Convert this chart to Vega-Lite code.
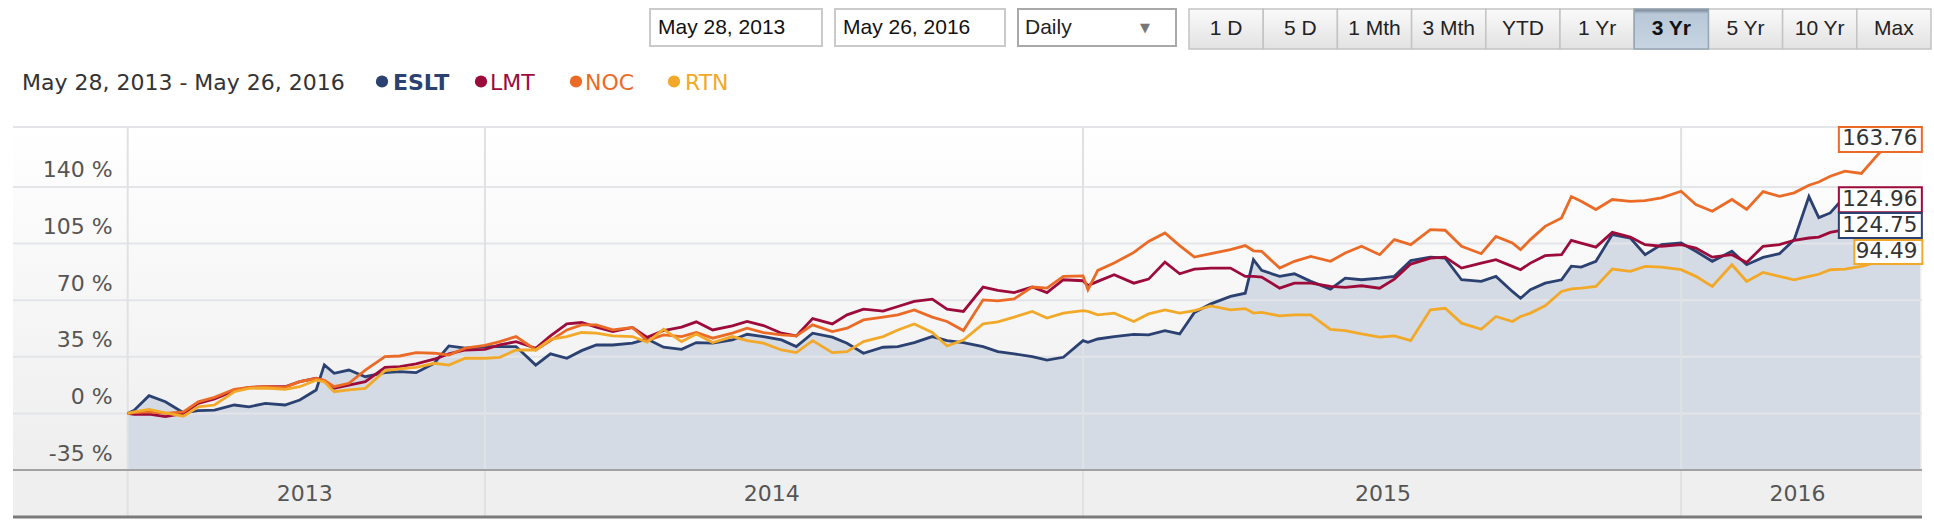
{
  "$schema": "https://vega.github.io/schema/vega-lite/v6.json",
  "background": "white",
  "padding": {"left": 11, "top": 8, "right": 0, "bottom": 0},
  "spacing": 13,
  "config": {"view": {"stroke": null, "fill": "white"}},
  "datasets": {
    "prices": [
      {"d":"2013-05-28","ESLT":0,"LMT":0,"NOC":0,"RTN":0},
      {"d":"2013-06-01","ESLT":2,"LMT":-0.5,"NOC":0.5,"RTN":1},
      {"d":"2013-06-10","ESLT":11,"LMT":-0.4,"NOC":1,"RTN":2.5},
      {"d":"2013-06-20","ESLT":7.2,"LMT":-2,"NOC":0,"RTN":0.4},
      {"d":"2013-07-01","ESLT":0.4,"LMT":0,"NOC":1,"RTN":-1.7},
      {"d":"2013-07-10","ESLT":1.7,"LMT":6.2,"NOC":7.2,"RTN":4.1},
      {"d":"2013-07-20","ESLT":2,"LMT":8.9,"NOC":9.9,"RTN":5.2},
      {"d":"2013-08-01","ESLT":5.2,"LMT":14,"NOC":14.9,"RTN":13.4},
      {"d":"2013-08-10","ESLT":4.1,"LMT":16.1,"NOC":16.1,"RTN":15.5},
      {"d":"2013-08-20","ESLT":6.2,"LMT":16.5,"NOC":16.5,"RTN":15.7},
      {"d":"2013-09-01","ESLT":5.2,"LMT":16.5,"NOC":16.1,"RTN":14.9},
      {"d":"2013-09-10","ESLT":8.3,"LMT":19.6,"NOC":19.6,"RTN":16.5},
      {"d":"2013-09-20","ESLT":14.5,"LMT":21.7,"NOC":21.7,"RTN":20.6},
      {"d":"2013-09-25","ESLT":30,"LMT":20,"NOC":20.5,"RTN":19.5},
      {"d":"2013-10-01","ESLT":24.8,"LMT":15.5,"NOC":16.5,"RTN":13.4},
      {"d":"2013-10-10","ESLT":26.8,"LMT":17.5,"NOC":18.6,"RTN":14.5},
      {"d":"2013-10-20","ESLT":22.7,"LMT":19.6,"NOC":26.8,"RTN":15.5},
      {"d":"2013-11-01","ESLT":25.2,"LMT":28.5,"NOC":35.1,"RTN":26.4},
      {"d":"2013-11-10","ESLT":25.8,"LMT":28.9,"NOC":35.5,"RTN":27.5},
      {"d":"2013-11-20","ESLT":25.2,"LMT":30.6,"NOC":37.6,"RTN":28.5},
      {"d":"2013-12-01","ESLT":31,"LMT":33.5,"NOC":37.2,"RTN":31},
      {"d":"2013-12-10","ESLT":41.7,"LMT":36.8,"NOC":36.1,"RTN":29.9},
      {"d":"2013-12-20","ESLT":40.3,"LMT":39.2,"NOC":40.3,"RTN":34.1},
      {"d":"2014-01-01","ESLT":41.3,"LMT":39.6,"NOC":42.1,"RTN":34.1},
      {"d":"2014-01-10","ESLT":41.3,"LMT":42.3,"NOC":44.4,"RTN":34.7},
      {"d":"2014-01-20","ESLT":41.3,"LMT":44.4,"NOC":47.5,"RTN":39.2},
      {"d":"2014-02-01","ESLT":29.9,"LMT":40.3,"NOC":39.2,"RTN":39.2},
      {"d":"2014-02-10","ESLT":36.8,"LMT":47.9,"NOC":45,"RTN":45.8},
      {"d":"2014-02-20","ESLT":34.1,"LMT":55.3,"NOC":51.6,"RTN":47.5},
      {"d":"2014-03-01","ESLT":38.8,"LMT":56.2,"NOC":54.7,"RTN":50},
      {"d":"2014-03-10","ESLT":42.3,"LMT":53.3,"NOC":54.7,"RTN":49.6},
      {"d":"2014-03-20","ESLT":42.3,"LMT":50.6,"NOC":51.6,"RTN":47.9},
      {"d":"2014-04-01","ESLT":43.4,"LMT":53.1,"NOC":53.1,"RTN":47.5},
      {"d":"2014-04-10","ESLT":46,"LMT":47,"NOC":45,"RTN":44},
      {"d":"2014-04-20","ESLT":40.9,"LMT":51.2,"NOC":48.5,"RTN":52},
      {"d":"2014-05-01","ESLT":39.6,"LMT":53.3,"NOC":47.5,"RTN":44.4},
      {"d":"2014-05-10","ESLT":43.8,"LMT":56.6,"NOC":50,"RTN":49.1},
      {"d":"2014-05-20","ESLT":43.4,"LMT":51.6,"NOC":46.5,"RTN":43.8},
      {"d":"2014-06-01","ESLT":45.4,"LMT":54.1,"NOC":49.6,"RTN":47.5},
      {"d":"2014-06-10","ESLT":48.9,"LMT":56.8,"NOC":52.7,"RTN":45},
      {"d":"2014-06-20","ESLT":47.5,"LMT":54.3,"NOC":50,"RTN":43.4},
      {"d":"2014-07-01","ESLT":45.4,"LMT":49.6,"NOC":48.5,"RTN":39.2},
      {"d":"2014-07-10","ESLT":41.3,"LMT":47.9,"NOC":47.9,"RTN":37.6},
      {"d":"2014-07-20","ESLT":49.6,"LMT":58.6,"NOC":54.7,"RTN":45},
      {"d":"2014-08-01","ESLT":47.1,"LMT":55.3,"NOC":50.6,"RTN":37.6},
      {"d":"2014-08-10","ESLT":43.4,"LMT":60.9,"NOC":52.7,"RTN":38.2},
      {"d":"2014-08-20","ESLT":37.2,"LMT":64.4,"NOC":57.8,"RTN":44.4},
      {"d":"2014-09-01","ESLT":40.9,"LMT":63.2,"NOC":59.5,"RTN":47.5},
      {"d":"2014-09-10","ESLT":41.3,"LMT":66.1,"NOC":60.9,"RTN":51.6},
      {"d":"2014-09-20","ESLT":43.8,"LMT":69.2,"NOC":64,"RTN":55.3},
      {"d":"2014-10-01","ESLT":47.5,"LMT":70.6,"NOC":59.5,"RTN":50},
      {"d":"2014-10-10","ESLT":45,"LMT":64.4,"NOC":56.8,"RTN":41.7},
      {"d":"2014-10-20","ESLT":43.8,"LMT":63,"NOC":51.2,"RTN":45.4},
      {"d":"2014-11-01","ESLT":41.3,"LMT":78.1,"NOC":70.2,"RTN":55.3},
      {"d":"2014-11-10","ESLT":38.2,"LMT":76,"NOC":69.6,"RTN":56.6},
      {"d":"2014-11-20","ESLT":36.8,"LMT":74.7,"NOC":70.8,"RTN":59.5},
      {"d":"2014-12-01","ESLT":35.1,"LMT":78.1,"NOC":78.1,"RTN":63},
      {"d":"2014-12-10","ESLT":33,"LMT":74.7,"NOC":77.4,"RTN":58.9},
      {"d":"2014-12-20","ESLT":34.7,"LMT":82.6,"NOC":84.7,"RTN":62},
      {"d":"2015-01-01","ESLT":45,"LMT":82,"NOC":85,"RTN":63.5},
      {"d":"2015-01-04","ESLT":44,"LMT":79,"NOC":76.5,"RTN":63},
      {"d":"2015-01-10","ESLT":46,"LMT":81.6,"NOC":88.4,"RTN":60.9},
      {"d":"2015-01-20","ESLT":47.5,"LMT":85.7,"NOC":92.9,"RTN":62},
      {"d":"2015-02-01","ESLT":48.9,"LMT":80.5,"NOC":99.5,"RTN":56.8},
      {"d":"2015-02-10","ESLT":48.5,"LMT":83,"NOC":106.3,"RTN":61.5},
      {"d":"2015-02-20","ESLT":51.2,"LMT":93.5,"NOC":111.5,"RTN":64},
      {"d":"2015-03-01","ESLT":49.1,"LMT":86.3,"NOC":103.7,"RTN":62},
      {"d":"2015-03-10","ESLT":62.4,"LMT":89.2,"NOC":96.6,"RTN":63.6},
      {"d":"2015-03-20","ESLT":67.7,"LMT":89.8,"NOC":98.7,"RTN":66.5},
      {"d":"2015-04-01","ESLT":72.3,"LMT":89.8,"NOC":101.2,"RTN":64},
      {"d":"2015-04-10","ESLT":74.3,"LMT":84.7,"NOC":103.7,"RTN":64.8},
      {"d":"2015-04-15","ESLT":95,"LMT":84.7,"NOC":100.5,"RTN":62},
      {"d":"2015-04-20","ESLT":88.4,"LMT":84.3,"NOC":100.2,"RTN":62.4},
      {"d":"2015-05-01","ESLT":84.7,"LMT":77.4,"NOC":89.8,"RTN":60.3},
      {"d":"2015-05-10","ESLT":86.3,"LMT":80.5,"NOC":94,"RTN":60.9},
      {"d":"2015-05-20","ESLT":81.6,"LMT":80.5,"NOC":97,"RTN":60.9},
      {"d":"2015-06-01","ESLT":76.8,"LMT":78.5,"NOC":94,"RTN":52},
      {"d":"2015-06-10","ESLT":83.6,"LMT":77.9,"NOC":99.1,"RTN":51.2},
      {"d":"2015-06-20","ESLT":82.6,"LMT":78.9,"NOC":103.3,"RTN":49.1},
      {"d":"2015-07-01","ESLT":83.6,"LMT":77.4,"NOC":98.1,"RTN":47.1},
      {"d":"2015-07-10","ESLT":84.7,"LMT":83,"NOC":107.4,"RTN":47.9},
      {"d":"2015-07-20","ESLT":94.4,"LMT":92.3,"NOC":104.3,"RTN":45},
      {"d":"2015-08-01","ESLT":96.6,"LMT":96,"NOC":113.6,"RTN":64},
      {"d":"2015-08-10","ESLT":96,"LMT":96.6,"NOC":113.2,"RTN":65},
      {"d":"2015-08-20","ESLT":82.6,"LMT":89.8,"NOC":103.3,"RTN":55.8},
      {"d":"2015-09-01","ESLT":81.6,"LMT":92.9,"NOC":98.7,"RTN":52},
      {"d":"2015-09-10","ESLT":84.7,"LMT":95,"NOC":109.4,"RTN":59.9},
      {"d":"2015-09-20","ESLT":75.4,"LMT":90.9,"NOC":105.3,"RTN":56.8},
      {"d":"2015-09-25","ESLT":71.2,"LMT":88.8,"NOC":101.2,"RTN":59.9},
      {"d":"2015-10-01","ESLT":76.4,"LMT":92.9,"NOC":107.4,"RTN":62},
      {"d":"2015-10-10","ESLT":80.5,"LMT":97.5,"NOC":115.6,"RTN":66.5},
      {"d":"2015-10-20","ESLT":82.6,"LMT":98.1,"NOC":120.8,"RTN":75.4},
      {"d":"2015-10-26","ESLT":91,"LMT":107,"NOC":134,"RTN":77},
      {"d":"2015-11-01","ESLT":90.4,"LMT":105.3,"NOC":131.1,"RTN":77.4},
      {"d":"2015-11-10","ESLT":94,"LMT":102.8,"NOC":126,"RTN":78.5},
      {"d":"2015-11-20","ESLT":110.5,"LMT":111.9,"NOC":132.2,"RTN":89.2},
      {"d":"2015-12-01","ESLT":108.4,"LMT":109,"NOC":131.1,"RTN":87.8},
      {"d":"2015-12-10","ESLT":98.1,"LMT":104.3,"NOC":131.5,"RTN":90.9},
      {"d":"2015-12-20","ESLT":104.3,"LMT":103.3,"NOC":133.2,"RTN":90.4},
      {"d":"2016-01-01","ESLT":105.3,"LMT":104.3,"NOC":137.3,"RTN":88.8},
      {"d":"2016-01-10","ESLT":100.2,"LMT":102.2,"NOC":129.1,"RTN":84.7},
      {"d":"2016-01-20","ESLT":94,"LMT":96.6,"NOC":124.9,"RTN":78.5},
      {"d":"2016-02-01","ESLT":100.2,"LMT":98.1,"NOC":132.2,"RTN":91.9},
      {"d":"2016-02-10","ESLT":91.9,"LMT":93.3,"NOC":126,"RTN":81.6},
      {"d":"2016-02-20","ESLT":96.4,"LMT":103.3,"NOC":137.1,"RTN":87.1},
      {"d":"2016-03-01","ESLT":98.7,"LMT":104.3,"NOC":134.2,"RTN":84.7},
      {"d":"2016-03-10","ESLT":107.4,"LMT":107,"NOC":136.3,"RTN":82.6},
      {"d":"2016-03-19","ESLT":134,"LMT":108.4,"NOC":141,"RTN":84.7},
      {"d":"2016-03-25","ESLT":121,"LMT":109,"NOC":143,"RTN":86},
      {"d":"2016-04-01","ESLT":123.9,"LMT":111.9,"NOC":146.6,"RTN":88.8},
      {"d":"2016-04-10","ESLT":134.2,"LMT":113.6,"NOC":149.7,"RTN":89.2},
      {"d":"2016-04-20","ESLT":132.2,"LMT":114.6,"NOC":148.3,"RTN":90.9},
      {"d":"2016-05-01","ESLT":129,"LMT":115.6,"NOC":161,"RTN":94},
      {"d":"2016-05-10","ESLT":127,"LMT":116.7,"NOC":166.2,"RTN":94},
      {"d":"2016-05-20","ESLT":125,"LMT":117.7,"NOC":162.1,"RTN":94.4},
      {"d":"2016-05-26","ESLT":124.75,"LMT":118,"NOC":163.76,"RTN":94.49}
    ],
    "ends": [
      {"s":"NOC","v":163.76},
      {"s":"LMT","v":124.96},
      {"s":"ESLT","v":124.75},
      {"s":"RTN","v":94.49}
    ],
    "buttons": [
      {"b":"1 D"},{"b":"5 D"},{"b":"1 Mth"},{"b":"3 Mth"},{"b":"YTD"},
      {"b":"1 Yr"},{"b":"3 Yr"},{"b":"5 Yr"},{"b":"10 Yr"},{"b":"Max"}
    ],
    "ticks": [
      {"g":-35,"lbl":"-35 %"},{"g":0,"lbl":"0 %"},{"g":35,"lbl":"35 %"},
      {"g":70,"lbl":"70 %"},{"g":105,"lbl":"105 %"},{"g":140,"lbl":"140 %"}
    ]
  },
  "vconcat": [
    {
      "spacing": 11,
      "hconcat": [
        {
          "width": 625, "height": 37,
          "data": {"values": [{}]},
          "mark": {"type": "text"},
          "encoding": {"text": {"value": ""}}
        },
        {
          "width": 172, "height": 37,
          "view": {"stroke": "#cacaca", "strokeWidth": 2, "fill": "white"},
          "data": {"values": [{"t": "May 28, 2013"}]},
          "mark": {"type": "text", "align": "left", "baseline": "middle", "dx": 8, "font": "Liberation Sans", "fontSize": 21, "color": "#111"},
          "encoding": {
            "x": {"datum": 0, "type": "quantitative", "scale": {"domain": [0, 1]}, "axis": null},
            "text": {"field": "t"}
          }
        },
        {
          "width": 170, "height": 37,
          "view": {"stroke": "#cacaca", "strokeWidth": 2, "fill": "white"},
          "data": {"values": [{"t": "May 26, 2016"}]},
          "mark": {"type": "text", "align": "left", "baseline": "middle", "dx": 8, "font": "Liberation Sans", "fontSize": 21, "color": "#111"},
          "encoding": {
            "x": {"datum": 0, "type": "quantitative", "scale": {"domain": [0, 1]}, "axis": null},
            "text": {"field": "t"}
          }
        },
        {
          "width": 158, "height": 37,
          "view": {"stroke": "#a9a9a9", "strokeWidth": 2, "fill": "white"},
          "data": {"values": [{"t": "Daily", "arrow": "\u25bc"}]},
          "layer": [
            {
              "mark": {"type": "text", "align": "left", "baseline": "middle", "dx": 7, "font": "Liberation Sans", "fontSize": 21, "color": "#222"},
              "encoding": {
                "x": {"datum": 0, "type": "quantitative", "scale": {"domain": [0, 1]}, "axis": null},
                "text": {"field": "t"}
              }
            },
            {
              "mark": {"type": "text", "align": "center", "baseline": "middle", "dx": -31, "font": "DejaVu Sans", "fontSize": 13, "color": "#777"},
              "encoding": {
                "x": {"datum": 1, "type": "quantitative", "axis": null},
                "text": {"field": "arrow"}
              }
            }
          ]
        },
        {
          "width": 742, "height": 40,
          "data": {"name": "buttons"},
          "encoding": {
            "x": {"field": "b", "type": "nominal", "scale": {"domain": ["1 D","5 D","1 Mth","3 Mth","YTD","1 Yr","3 Yr","5 Yr","10 Yr","Max"], "paddingInner": 0, "paddingOuter": 0}, "axis": null}
          },
          "layer": [
            {
              "mark": {"type": "rect", "stroke": "#c4c4c4", "strokeWidth": 1.5,
                "fill": {"gradient": "linear", "x1": 0, "y1": 0, "x2": 0, "y2": 1, "stops": [{"offset": 0, "color": "#fafafa"}, {"offset": 1, "color": "#e2e2e2"}]}}
            },
            {
              "transform": [{"filter": "datum.b == '3 Yr'"}],
              "mark": {"type": "rect", "stroke": "#98a5b3", "strokeWidth": 1.5,
                "fill": {"gradient": "linear", "x1": 0, "y1": 0, "x2": 0, "y2": 1, "stops": [{"offset": 0, "color": "#6f7f90"}, {"offset": 0.12, "color": "#b9c8d7"}, {"offset": 1, "color": "#c7d5e2"}]}}
            },
            {
              "transform": [{"filter": "datum.b != '3 Yr'"}],
              "mark": {"type": "text", "baseline": "middle", "font": "Liberation Sans", "fontSize": 21, "color": "#222"},
              "encoding": {"text": {"field": "b"}}
            },
            {
              "transform": [{"filter": "datum.b == '3 Yr'"}],
              "mark": {"type": "text", "baseline": "middle", "font": "Liberation Sans", "fontSize": 21, "fontWeight": "bold", "color": "#111"},
              "encoding": {"text": {"field": "b"}}
            }
          ]
        }
      ]
    },
    {
      "spacing": 0,
      "hconcat": [
        {
          "width": 362, "height": 46,
          "data": {"values": [{"t": "May 28, 2013 - May 26, 2016"}]},
          "mark": {"type": "text", "align": "left", "baseline": "middle", "dx": 9, "dy": -3.5, "font": "DejaVu Sans", "fontSize": 22, "color": "#333333"},
          "encoding": {
            "x": {"datum": 0, "type": "quantitative", "scale": {"domain": [0, 1]}, "axis": null},
            "text": {"field": "t"}
          }
        },
        {
          "width": 99, "height": 46,
          "data": {"values": [{"s": "ESLT"}]},
          "encoding": {"x": {"datum": 0, "type": "quantitative", "scale": {"domain": [0, 1]}, "axis": null}},
          "layer": [
            {"mark": {"type": "point", "shape": "circle", "filled": true, "size": 150, "opacity": 1, "color": "#2b4171", "xOffset": 7, "yOffset": -4.5}},
            {"mark": {"type": "text", "align": "left", "baseline": "middle", "dx": 18, "dy": -3.5, "font": "DejaVu Sans", "fontSize": 22, "fontWeight": "bold", "color": "#2b4171"}, "encoding": {"text": {"field": "s"}}}
          ]
        },
        {
          "width": 95, "height": 46,
          "data": {"values": [{"s": "LMT"}]},
          "encoding": {"x": {"datum": 0, "type": "quantitative", "scale": {"domain": [0, 1]}, "axis": null}},
          "layer": [
            {"mark": {"type": "point", "shape": "circle", "filled": true, "size": 150, "opacity": 1, "color": "#9d0b3b", "xOffset": 7, "yOffset": -4.5}},
            {"mark": {"type": "text", "align": "left", "baseline": "middle", "dx": 16, "dy": -3.5, "font": "DejaVu Sans", "fontSize": 22, "color": "#9d0b3b"}, "encoding": {"text": {"field": "s"}}}
          ]
        },
        {
          "width": 98, "height": 46,
          "data": {"values": [{"s": "NOC"}]},
          "encoding": {"x": {"datum": 0, "type": "quantitative", "scale": {"domain": [0, 1]}, "axis": null}},
          "layer": [
            {"mark": {"type": "point", "shape": "circle", "filled": true, "size": 150, "opacity": 1, "color": "#eb6b26", "xOffset": 7, "yOffset": -4.5}},
            {"mark": {"type": "text", "align": "left", "baseline": "middle", "dx": 16, "dy": -3.5, "font": "DejaVu Sans", "fontSize": 22, "color": "#eb6b26"}, "encoding": {"text": {"field": "s"}}}
          ]
        },
        {
          "width": 70, "height": 46,
          "data": {"values": [{"s": "RTN"}]},
          "encoding": {"x": {"datum": 0, "type": "quantitative", "scale": {"domain": [0, 1]}, "axis": null}},
          "layer": [
            {"mark": {"type": "point", "shape": "circle", "filled": true, "size": 150, "opacity": 1, "color": "#f2a92a", "xOffset": 7, "yOffset": -4.5}},
            {"mark": {"type": "text", "align": "left", "baseline": "middle", "dx": 18, "dy": -3.5, "font": "DejaVu Sans", "fontSize": 22, "color": "#f2a92a"}, "encoding": {"text": {"field": "s"}}}
          ]
        }
      ]
    },
    {
      "width": 1909,
      "height": 390,
      "layer": [
        {
          "data": {"values": [{}]},
          "mark": {"type": "rect",
            "fill": {"gradient": "linear", "x1": 0, "y1": 0, "x2": 0, "y2": 1, "stops": [{"offset": 0, "color": "#ffffff"}, {"offset": 1, "color": "#eeeeee"}]}},
          "encoding": {
            "x": {"datum": {"year": 2013, "month": 3, "date": 19, "utc": true}, "type": "temporal",
              "scale": {"domain": [{"year": 2013, "month": 3, "date": 19, "utc": true}, {"year": 2016, "month": 5, "date": 27, "utc": true}]}, "axis": null},
            "x2": {"datum": {"year": 2016, "month": 5, "date": 27, "utc": true}},
            "y": {"datum": 177, "type": "quantitative", "scale": {"domain": [-64, 177], "nice": false, "zero": false}, "axis": null},
            "y2": {"datum": -35}
          }
        },
        {
          "data": {"values": [{}]},
          "mark": {"type": "rect", "fill": "#efefef"},
          "encoding": {
            "x": {"datum": {"year": 2013, "month": 3, "date": 19, "utc": true}, "type": "temporal", "axis": null},
            "x2": {"datum": {"year": 2016, "month": 5, "date": 27, "utc": true}},
            "y": {"datum": -35, "type": "quantitative", "axis": null},
            "y2": {"datum": -64}
          }
        },
        {
          "data": {"name": "prices"},
          "mark": {"type": "area", "fill": "#d4dbe4"},
          "encoding": {
            "x": {"field": "d", "type": "temporal", "axis": null},
            "y": {"field": "ESLT", "type": "quantitative", "axis": null},
            "y2": {"datum": -35}
          }
        },
        {
          "data": {"values": [{"g": 0}, {"g": 35}, {"g": 70}, {"g": 105}, {"g": 140}, {"g": 177}]},
          "mark": {"type": "rule", "color": "#e3e5e8", "strokeWidth": 2},
          "encoding": {"y": {"field": "g", "type": "quantitative", "axis": null}}
        },
        {
          "data": {"values": [{"d": "2013-05-28"}, {"d": "2014-01-01"}, {"d": "2015-01-01"}, {"d": "2016-01-01"}]},
          "mark": {"type": "rule", "color": "#dfe1e4", "strokeWidth": 2},
          "encoding": {"x": {"field": "d", "type": "temporal", "axis": null}}
        },
        {
          "data": {"values": [{}]},
          "mark": {"type": "rule", "color": "#a2a2a2", "strokeWidth": 2},
          "encoding": {"y": {"datum": -35, "type": "quantitative", "axis": null}}
        },
        {
          "data": {"values": [{}]},
          "mark": {"type": "rule", "color": "#7a7a7a", "strokeWidth": 3},
          "encoding": {"y": {"datum": -64, "type": "quantitative", "axis": null}}
        },
        {
          "data": {"name": "ticks"},
          "mark": {"type": "text", "align": "right", "baseline": "alphabetic", "dx": -15, "dy": -9.5, "font": "DejaVu Sans", "fontSize": 22, "color": "#555555"},
          "encoding": {
            "x": {"datum": {"year": 2013, "month": 5, "date": 28, "utc": true}, "type": "temporal", "axis": null},
            "y": {"field": "g", "type": "quantitative", "axis": null},
            "text": {"field": "lbl"}
          }
        },
        {
          "data": {"values": [{"d": "2013-09-13", "yr": "2013"}, {"d": "2014-06-25", "yr": "2014"}, {"d": "2015-07-03", "yr": "2015"}, {"d": "2016-03-12", "yr": "2016"}]},
          "mark": {"type": "text", "baseline": "middle", "font": "DejaVu Sans", "fontSize": 22, "color": "#555555"},
          "encoding": {
            "x": {"field": "d", "type": "temporal", "axis": null},
            "y": {"datum": -49.5, "type": "quantitative", "axis": null},
            "text": {"field": "yr"}
          }
        },
        {
          "data": {"name": "prices"},
          "transform": [{"fold": ["ESLT", "LMT", "NOC", "RTN"], "as": ["series", "pct"]}],
          "mark": {"type": "line", "strokeWidth": 2.8},
          "encoding": {
            "x": {"field": "d", "type": "temporal", "axis": null},
            "y": {"field": "pct", "type": "quantitative", "axis": null},
            "color": {
              "field": "series", "type": "nominal",
              "scale": {"domain": ["ESLT", "LMT", "NOC", "RTN"], "range": ["#2b4171", "#9d0b3b", "#eb6b26", "#f2a92a"]},
              "legend": null
            }
          }
        },
        {
          "data": {"name": "ends"},
          "transform": [{"filter": "datum.s == 'NOC'"}],
          "encoding": {
            "x": {"datum": {"year": 2016, "month": 5, "date": 26, "utc": true}, "type": "temporal", "axis": null},
            "y": {"field": "v", "type": "quantitative", "axis": null}
          },
          "layer": [
            {"mark": {"type": "point", "shape": "M-1,-0.301H1V0.301H-1Z", "size": 6889, "filled": true, "fill": "white", "stroke": "#eb6b26", "strokeWidth": 2, "opacity": 1, "xOffset": -40, "yOffset": -9}},
            {"mark": {"type": "text", "align": "right", "baseline": "middle", "dx": -3, "yOffset": -9, "font": "DejaVu Sans", "fontSize": 21.5, "color": "#333333"},
             "encoding": {"text": {"field": "v", "type": "quantitative", "format": ".2f"}}}
          ]
        },
        {
          "data": {"name": "ends"},
          "transform": [{"filter": "datum.s == 'LMT'"}],
          "encoding": {
            "x": {"datum": {"year": 2016, "month": 5, "date": 26, "utc": true}, "type": "temporal", "axis": null},
            "y": {"field": "v", "type": "quantitative", "axis": null}
          },
          "layer": [
            {"mark": {"type": "point", "shape": "M-1,-0.301H1V0.301H-1Z", "size": 6889, "filled": true, "fill": "white", "stroke": "#9d0b3b", "strokeWidth": 2, "opacity": 1, "xOffset": -40, "yOffset": -11.5}},
            {"mark": {"type": "text", "align": "right", "baseline": "middle", "dx": -3, "yOffset": -11.5, "font": "DejaVu Sans", "fontSize": 21.5, "color": "#333333"},
             "encoding": {"text": {"field": "v", "type": "quantitative", "format": ".2f"}}}
          ]
        },
        {
          "data": {"name": "ends"},
          "transform": [{"filter": "datum.s == 'ESLT'"}],
          "encoding": {
            "x": {"datum": {"year": 2016, "month": 5, "date": 26, "utc": true}, "type": "temporal", "axis": null},
            "y": {"field": "v", "type": "quantitative", "axis": null}
          },
          "layer": [
            {"mark": {"type": "point", "shape": "M-1,-0.301H1V0.301H-1Z", "size": 6889, "filled": true, "fill": "white", "stroke": "#2b4171", "strokeWidth": 2, "opacity": 1, "xOffset": -40, "yOffset": 14}},
            {"mark": {"type": "text", "align": "right", "baseline": "middle", "dx": -3, "yOffset": 14, "font": "DejaVu Sans", "fontSize": 21.5, "color": "#333333"},
             "encoding": {"text": {"field": "v", "type": "quantitative", "format": ".2f"}}}
          ]
        },
        {
          "data": {"name": "ends"},
          "transform": [{"filter": "datum.s == 'RTN'"}],
          "encoding": {
            "x": {"datum": {"year": 2016, "month": 5, "date": 26, "utc": true}, "type": "temporal", "axis": null},
            "y": {"field": "v", "type": "quantitative", "axis": null}
          },
          "layer": [
            {"mark": {"type": "point", "shape": "M-1,-0.353H1V0.353H-1Z", "size": 4624, "filled": true, "fill": "white", "stroke": "#f2a92a", "strokeWidth": 2, "opacity": 1, "xOffset": -32, "yOffset": -8.5}},
            {"mark": {"type": "text", "align": "right", "baseline": "middle", "dx": -3, "yOffset": -8.5, "font": "DejaVu Sans", "fontSize": 21.5, "color": "#333333"},
             "encoding": {"text": {"field": "v", "type": "quantitative", "format": ".2f"}}}
          ]
        }
      ]
    }
  ]
}
